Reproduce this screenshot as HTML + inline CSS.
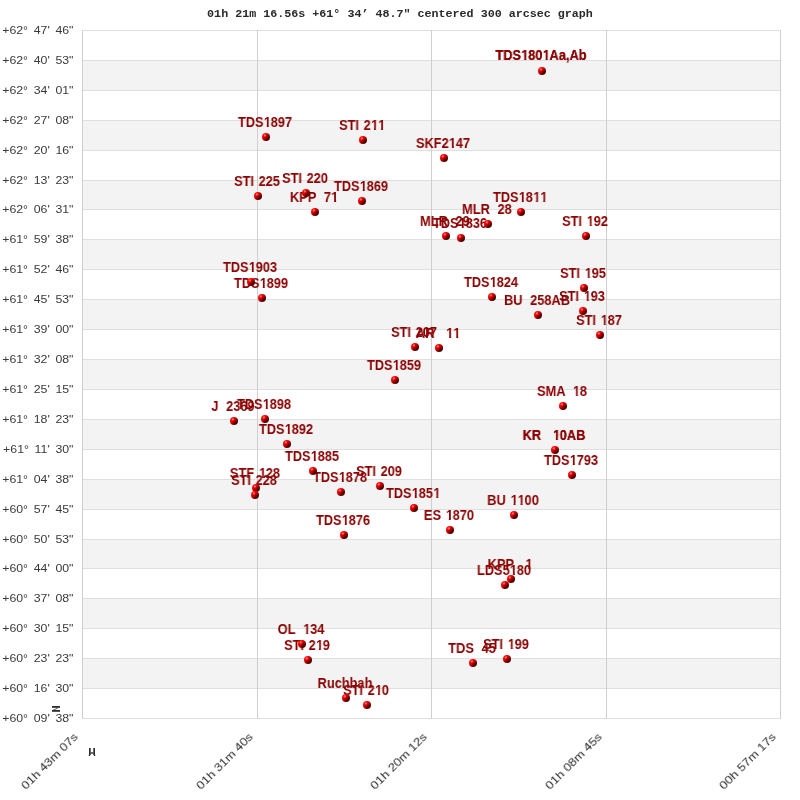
<!DOCTYPE html>
<html><head><meta charset="utf-8"><style>
html,body{margin:0;padding:0;background:#fff;width:800px;height:800px;overflow:hidden;position:relative}
.a{position:absolute}
.t{position:absolute;left:0;top:6.5px;will-change:transform;width:800px;text-align:center;font-family:"Liberation Mono",monospace;font-weight:bold;font-size:11.7px;color:#2a2a2a;white-space:pre;line-height:14px}
.b{position:absolute;background:#f3f3f3}
.h{position:absolute;height:1px;background:#dfdfdf}
.v{position:absolute;width:1px;background:#cfcfcf}
.yl{position:absolute;left:-200px;width:273.5px;text-align:right;font-family:"Liberation Sans",sans-serif;font-size:11px;color:#3a3a3a;white-space:pre;line-height:12px;transform-origin:100% 50%;transform:scaleX(1.12);word-spacing:2px;will-change:transform}
.xl{position:absolute;width:200px;text-align:right;font-family:"Liberation Sans",sans-serif;font-size:11px;color:#262626;white-space:pre;line-height:12px;transform-origin:100% 100%;transform:rotate(-45deg) scaleX(1.17);will-change:transform}
.l{position:absolute;width:200px;text-align:center;font-family:"Liberation Sans",sans-serif;font-weight:bold;font-size:14px;color:#8b0000;white-space:pre;line-height:16px;will-change:transform;transform:scaleX(0.915);word-spacing:1.1px}
.o{display:inline-block;position:relative;left:0.4px;clip-path:polygon(0 0,100% 0,100% 10.8px,5.3px 10.8px,5.3px 17px,3.15px 17px,3.15px 10.8px,0 10.8px)}
.m{word-spacing:0.3px}
.l2{text-shadow:0 0 0.6px #8b0000}
.s{position:absolute;width:8px;height:8px;border-radius:50%;background:radial-gradient(circle 1.7px at 2.9px 2.4px,rgba(255,150,150,0.95),rgba(255,60,60,0)),linear-gradient(135deg,#ff0000 0%,#ff0808 25%,#d00000 44%,#a00000 56%,#600000 69%,#4a0000 85%)}
.d{position:absolute;font-family:"Liberation Mono",monospace;font-weight:bold;font-size:10px;color:#333;line-height:10px}
</style></head><body>
<div class="t">01h 21m 16.56s +61° 34’ 48.7" centered 300 arcsec graph</div>
<div class="b" style="left:82px;top:60px;width:698px;height:30px"></div>
<div class="b" style="left:82px;top:120px;width:698px;height:30px"></div>
<div class="b" style="left:82px;top:180px;width:698px;height:29px"></div>
<div class="b" style="left:82px;top:239px;width:698px;height:30px"></div>
<div class="b" style="left:82px;top:299px;width:698px;height:30px"></div>
<div class="b" style="left:82px;top:359px;width:698px;height:30px"></div>
<div class="b" style="left:82px;top:419px;width:698px;height:30px"></div>
<div class="b" style="left:82px;top:479px;width:698px;height:30px"></div>
<div class="b" style="left:82px;top:539px;width:698px;height:29px"></div>
<div class="b" style="left:82px;top:598px;width:698px;height:30px"></div>
<div class="b" style="left:82px;top:658px;width:698px;height:30px"></div>
<div class="h" style="left:82px;top:30px;width:699px"></div>
<div class="h" style="left:82px;top:60px;width:699px"></div>
<div class="h" style="left:82px;top:90px;width:699px"></div>
<div class="h" style="left:82px;top:120px;width:699px"></div>
<div class="h" style="left:82px;top:150px;width:699px"></div>
<div class="h" style="left:82px;top:180px;width:699px"></div>
<div class="h" style="left:82px;top:209px;width:699px"></div>
<div class="h" style="left:82px;top:239px;width:699px"></div>
<div class="h" style="left:82px;top:269px;width:699px"></div>
<div class="h" style="left:82px;top:299px;width:699px"></div>
<div class="h" style="left:82px;top:329px;width:699px"></div>
<div class="h" style="left:82px;top:359px;width:699px"></div>
<div class="h" style="left:82px;top:389px;width:699px"></div>
<div class="h" style="left:82px;top:419px;width:699px"></div>
<div class="h" style="left:82px;top:449px;width:699px"></div>
<div class="h" style="left:82px;top:479px;width:699px"></div>
<div class="h" style="left:82px;top:509px;width:699px"></div>
<div class="h" style="left:82px;top:539px;width:699px"></div>
<div class="h" style="left:82px;top:568px;width:699px"></div>
<div class="h" style="left:82px;top:598px;width:699px"></div>
<div class="h" style="left:82px;top:628px;width:699px"></div>
<div class="h" style="left:82px;top:658px;width:699px"></div>
<div class="h" style="left:82px;top:688px;width:699px"></div>
<div class="h" style="left:82px;top:718px;width:699px"></div>
<div class="v" style="left:82px;top:30px;height:689px"></div>
<div class="v" style="left:257px;top:30px;height:689px"></div>
<div class="v" style="left:431px;top:30px;height:689px"></div>
<div class="v" style="left:606px;top:30px;height:689px"></div>
<div class="v" style="left:780px;top:30px;height:689px"></div>
<div class="yl" style="top:24px">+62° 47' 46&quot;</div>
<div class="yl" style="top:54px">+62° 40' 53&quot;</div>
<div class="yl" style="top:84px">+62° 34' 01&quot;</div>
<div class="yl" style="top:114px">+62° 27' 08&quot;</div>
<div class="yl" style="top:144px">+62° 20' 16&quot;</div>
<div class="yl" style="top:174px">+62° 13' 23&quot;</div>
<div class="yl" style="top:203px">+62° 06' 31&quot;</div>
<div class="yl" style="top:233px">+61° 59' 38&quot;</div>
<div class="yl" style="top:263px">+61° 52' 46&quot;</div>
<div class="yl" style="top:293px">+61° 45' 53&quot;</div>
<div class="yl" style="top:323px">+61° 39' 00&quot;</div>
<div class="yl" style="top:353px">+61° 32' 08&quot;</div>
<div class="yl" style="top:383px">+61° 25' 15&quot;</div>
<div class="yl" style="top:413px">+61° 18' 23&quot;</div>
<div class="yl" style="top:443px">+61° 11' 30&quot;</div>
<div class="yl" style="top:473px">+61° 04' 38&quot;</div>
<div class="yl" style="top:503px">+60° 57' 45&quot;</div>
<div class="yl" style="top:533px">+60° 50' 53&quot;</div>
<div class="yl" style="top:562px">+60° 44' 00&quot;</div>
<div class="yl" style="top:592px">+60° 37' 08&quot;</div>
<div class="yl" style="top:622px">+60° 30' 15&quot;</div>
<div class="yl" style="top:652px">+60° 23' 23&quot;</div>
<div class="yl" style="top:682px">+60° 16' 30&quot;</div>
<div class="yl" style="top:712px">+60° 09' 38&quot;</div>
<div class="xl" style="left:-120px;top:727px">01h 43m 07s</div>
<div class="xl" style="left:55px;top:727px">01h 31m 40s</div>
<div class="xl" style="left:229px;top:727px">01h 20m 12s</div>
<div class="xl" style="left:404px;top:727px">01h 08m 45s</div>
<div class="xl" style="left:578px;top:727px">00h 57m 17s</div>
<svg class="a" style="left:0;top:0" width="800" height="800" viewBox="0 0 800 800"><g fill="#2e2e2e"><rect x="52" y="706" width="8" height="1.8"/><rect x="52" y="710" width="8" height="1.8"/><path d="M57.5 707.6 L59 707.6 L54.5 710 L53 710 Z"/><rect x="89" y="748" width="1.7" height="7"/><rect x="93.3" y="748" width="1.7" height="7"/><rect x="90.5" y="752.3" width="3" height="1.4"/><path d="M89 754.5 L90.7 754.5 L89.8 756 L88.6 756 Z"/><path d="M93.3 754.5 L95 754.5 L95.4 756 L94.2 756 Z"/></g></svg>
<div class="l l2" style="left:441.10px;top:47px">TDS<span class="o">1</span>80<span class="o">1</span>Aa,Ab</div>
<div class="l" style="left:165.20px;top:114px">TDS<span class="o">1</span>897</div>
<div class="l" style="left:262.20px;top:117px">STI 2<span class="o">1</span><span class="o">1</span></div>
<div class="l" style="left:343.20px;top:135px">SKF2<span class="o">1</span>47</div>
<div class="l" style="left:204.95px;top:170px">STI 220</div>
<div class="l" style="left:157.10px;top:173px">STI 225</div>
<div class="l" style="left:261.20px;top:178px">TDS<span class="o">1</span>869</div>
<div class="l m" style="left:214.10px;top:189px">KPP  7<span class="o">1</span></div>
<div class="l" style="left:420.10px;top:189px">TDS<span class="o">1</span>8<span class="o">1</span><span class="o">1</span></div>
<div class="l m" style="left:387.20px;top:201px">MLR  28</div>
<div class="l m" style="left:345.20px;top:213px">MLR  29</div>
<div class="l" style="left:359.90px;top:215px">TDS<span class="o">1</span>836</div>
<div class="l" style="left:484.95px;top:213px">STI <span class="o">1</span>92</div>
<div class="l" style="left:149.80px;top:259px">TDS<span class="o">1</span>903</div>
<div class="l" style="left:161.10px;top:275px">TDS<span class="o">1</span>899</div>
<div class="l" style="left:482.95px;top:265px">STI <span class="o">1</span>95</div>
<div class="l" style="left:391.20px;top:274px">TDS<span class="o">1</span>824</div>
<div class="l m" style="left:437.10px;top:292px">BU  258AB</div>
<div class="l" style="left:482.10px;top:288px">STI <span class="o">1</span>93</div>
<div class="l" style="left:498.90px;top:312px">STI <span class="o">1</span>87</div>
<div class="l" style="left:314.20px;top:324px">STI 207</div>
<div class="l m" style="left:338.10px;top:325px">AR   <span class="o">1</span><span class="o">1</span></div>
<div class="l" style="left:294.20px;top:357px">TDS<span class="o">1</span>859</div>
<div class="l m" style="left:462.20px;top:383px">SMA  <span class="o">1</span>8</div>
<div class="l l2 m" style="left:454.20px;top:427px">KR   <span class="o">1</span>0AB</div>
<div class="l" style="left:471.10px;top:452px">TDS<span class="o">1</span>793</div>
<div class="l m" style="left:133.20px;top:398px">J  2369</div>
<div class="l" style="left:164.20px;top:396px">TDS<span class="o">1</span>898</div>
<div class="l" style="left:186.10px;top:421px">TDS<span class="o">1</span>892</div>
<div class="l" style="left:155.20px;top:465px">STF <span class="o">1</span>28</div>
<div class="l" style="left:154.20px;top:472px">STI 228</div>
<div class="l" style="left:212.10px;top:448px">TDS<span class="o">1</span>885</div>
<div class="l" style="left:240.20px;top:469px">TDS<span class="o">1</span>878</div>
<div class="l" style="left:279.20px;top:463px">STI 209</div>
<div class="l" style="left:312.95px;top:485px">TDS<span class="o">1</span>85<span class="o">1</span></div>
<div class="l" style="left:243.00px;top:512px">TDS<span class="o">1</span>876</div>
<div class="l" style="left:349.10px;top:507px">ES <span class="o">1</span>870</div>
<div class="l" style="left:413.20px;top:492px">BU <span class="o">1</span><span class="o">1</span>00</div>
<div class="l m" style="left:410.10px;top:556px">KPP   <span class="o">1</span></div>
<div class="l" style="left:404.20px;top:562px">LDS5<span class="o">1</span>80</div>
<div class="l m" style="left:201.00px;top:621px">OL  <span class="o">1</span>34</div>
<div class="l" style="left:207.00px;top:637px">STI 2<span class="o">1</span>9</div>
<div class="l m" style="left:372.10px;top:640px">TDS  45</div>
<div class="l" style="left:406.10px;top:636px">STI <span class="o">1</span>99</div>
<div class="l" style="left:244.95px;top:675px">Ruchbah</div>
<div class="l" style="left:265.95px;top:682px">STI 2<span class="o">1</span>0</div>
<div class="s" style="left:538px;top:67px"></div>
<div class="s" style="left:262px;top:133px"></div>
<div class="s" style="left:359px;top:136px"></div>
<div class="s" style="left:440px;top:154px"></div>
<div class="s" style="left:302px;top:189px"></div>
<div class="s" style="left:254px;top:192px"></div>
<div class="s" style="left:358px;top:197px"></div>
<div class="s" style="left:311px;top:208px"></div>
<div class="s" style="left:517px;top:208px"></div>
<div class="s" style="left:484px;top:220px"></div>
<div class="s" style="left:442px;top:232px"></div>
<div class="s" style="left:457px;top:234px"></div>
<div class="s" style="left:582px;top:232px"></div>
<div class="s" style="left:247px;top:278px"></div>
<div class="s" style="left:258px;top:294px"></div>
<div class="s" style="left:580px;top:284px"></div>
<div class="s" style="left:488px;top:293px"></div>
<div class="s" style="left:534px;top:311px"></div>
<div class="s" style="left:579px;top:307px"></div>
<div class="s" style="left:596px;top:331px"></div>
<div class="s" style="left:411px;top:343px"></div>
<div class="s" style="left:435px;top:344px"></div>
<div class="s" style="left:391px;top:376px"></div>
<div class="s" style="left:559px;top:402px"></div>
<div class="s" style="left:551px;top:446px"></div>
<div class="s" style="left:568px;top:471px"></div>
<div class="s" style="left:230px;top:417px"></div>
<div class="s" style="left:261px;top:415px"></div>
<div class="s" style="left:283px;top:440px"></div>
<div class="s" style="left:252px;top:484px"></div>
<div class="s" style="left:251px;top:491px"></div>
<div class="s" style="left:309px;top:467px"></div>
<div class="s" style="left:337px;top:488px"></div>
<div class="s" style="left:376px;top:482px"></div>
<div class="s" style="left:410px;top:504px"></div>
<div class="s" style="left:340px;top:531px"></div>
<div class="s" style="left:446px;top:526px"></div>
<div class="s" style="left:510px;top:511px"></div>
<div class="s" style="left:507px;top:575px"></div>
<div class="s" style="left:501px;top:581px"></div>
<div class="s" style="left:298px;top:640px"></div>
<div class="s" style="left:304px;top:656px"></div>
<div class="s" style="left:469px;top:659px"></div>
<div class="s" style="left:503px;top:655px"></div>
<div class="s" style="left:342px;top:694px"></div>
<div class="s" style="left:363px;top:701px"></div>
</body></html>
